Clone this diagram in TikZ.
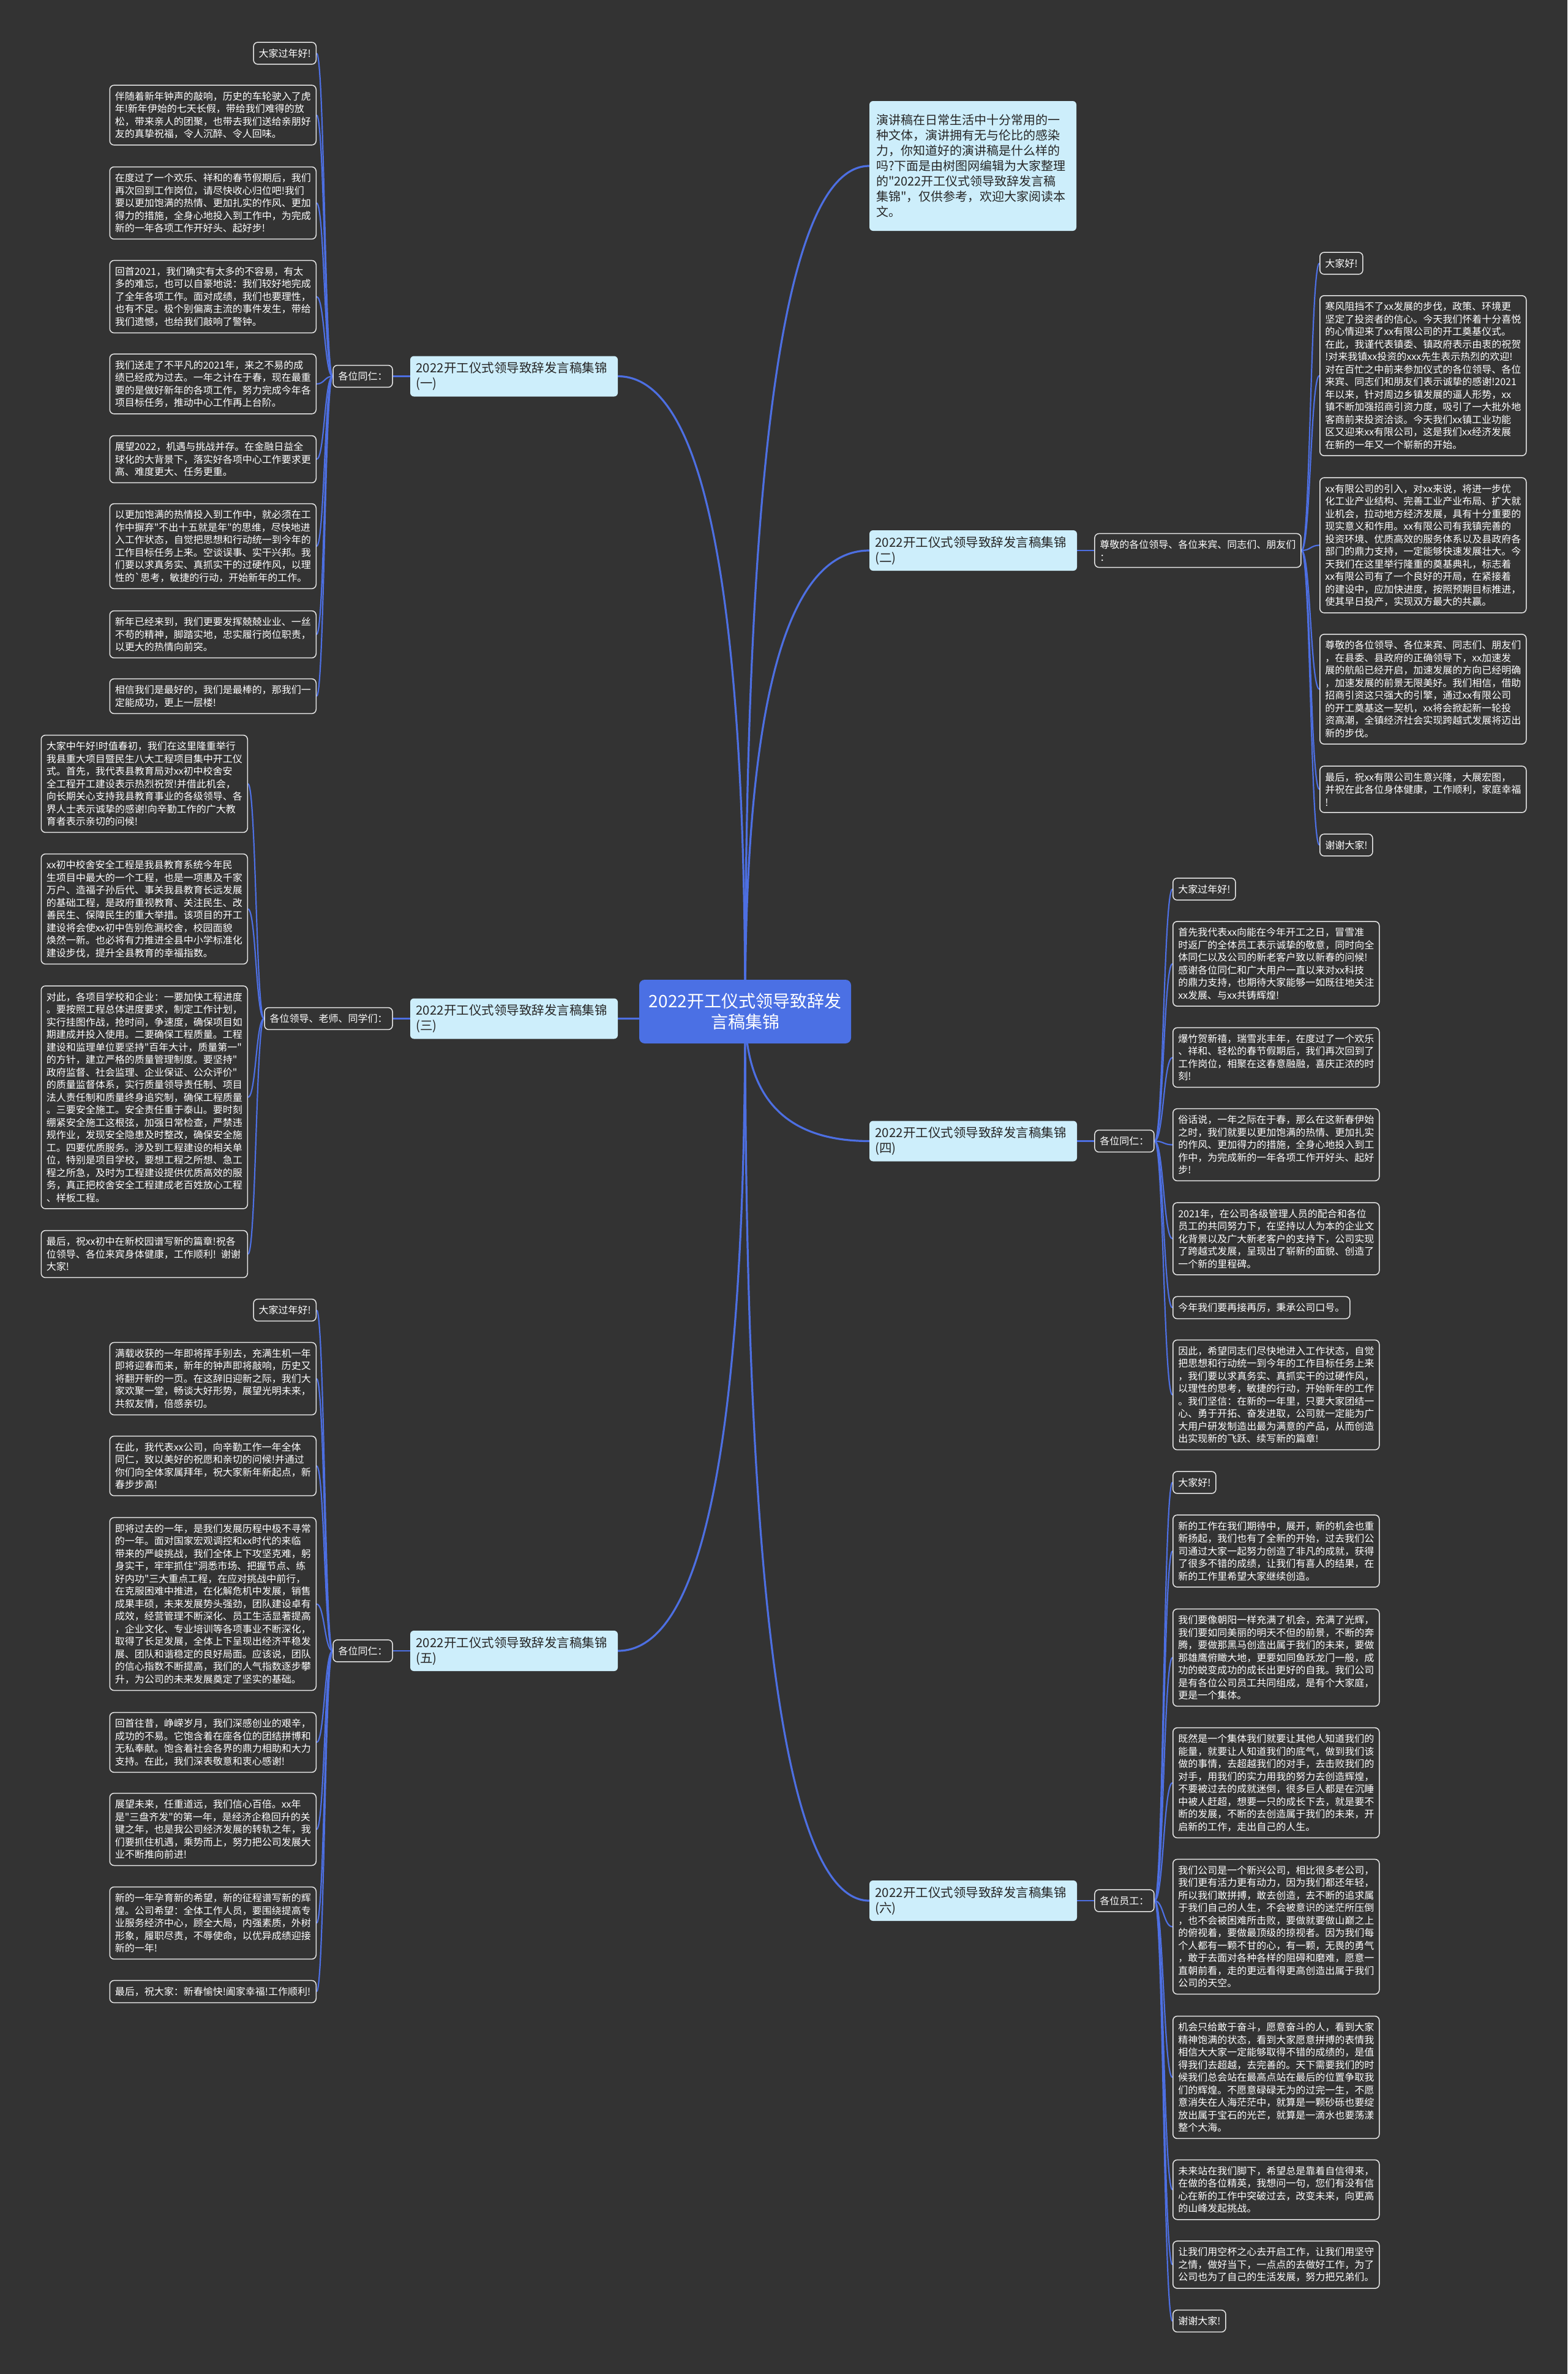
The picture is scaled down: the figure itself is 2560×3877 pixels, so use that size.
\documentclass[tikz,border=0pt]{standalone}
\usepackage{fontspec}
\newfontfamily\cjk{Noto Sans CJK SC}
\usepackage{tikz}
\usetikzlibrary{positioning,calc,backgrounds}

\definecolor{bgdark}{HTML}{333333}
\definecolor{linkblue}{HTML}{4D6FE2}
\definecolor{rootblue}{HTML}{4B70E4}
\definecolor{topicblue}{HTML}{CDEEFB}
\definecolor{boxline}{HTML}{E6E6E6}

\begin{document}
\begin{tikzpicture}[
    x=1pt, y=-1pt,
    node distance=28pt,
    centre/.style={rectangle, rounded corners=9pt, fill=rootblue, text=white, text width=316pt, align=center, inner xsep=15pt, minimum height=104pt, font=\cjk\fontsize{28pt}{34pt}\selectfont},
    topic/.style={rectangle, rounded corners=6pt, fill=topicblue, text=black!85, text width=320pt, align=left, inner xsep=9.5pt, minimum height=66pt, font=\cjk\fontsize{20.5pt}{25pt}\selectfont},
    blurb/.style={topic, text width=316pt, inner xsep=11pt, minimum height=212pt, font=\cjk\fontsize{20pt}{25pt}\selectfont},
    chip/.style={rectangle, rounded corners=7pt, draw=boxline, line width=1.5pt, fill=bgdark, text=white, align=left, inner xsep=8.5pt, inner ysep=10.5pt, font=\cjk\fontsize{16pt}{20.5pt}\selectfont},
    salute/.style={chip},
    para/.style={chip, text width=320pt},
    trunk/.style={draw=linkblue, line width=3.2pt,
      to path={.. controls ($(\tikztostart)!0.67!(\tikztostart |- \tikztotarget)$) and ($(\tikztotarget)!0.67!(\tikztostart |- \tikztotarget)$) .. (\tikztotarget)}},
    twig/.style={draw=linkblue, line width=2.2pt,
      to path={.. controls ($(\tikztostart)!0.5!(\tikztostart -| \tikztotarget)$) and ($(\tikztotarget)!0.5!(\tikztotarget -| \tikztostart)$) .. (\tikztotarget)}}
]
\useasboundingbox (0,0) rectangle (2560,3877);

% centre and intro
\node[centre] (root) at (1217,1652) {2022开工仪式领导致辞发\\言稿集锦};
\node[blurb] (intro) at (1589,271) {演讲稿在日常生活中十分常用的一\\种文体，演讲拥有无与伦比的感染\\力，你知道好的演讲稿是什么样的\\吗?下面是由树图网编辑为大家整理\\的"2022开工仪式领导致辞发言稿\\集锦"，仅供参考，欢迎大家阅读本\\文。};

% six speeches
\node[topic] (talkA) at (839.5,614.5) {2022开工仪式领导致辞发言稿集锦\\(一)};
\node[topic] (talkB) at (1589.5,899) {2022开工仪式领导致辞发言稿集锦\\(二)};
\node[topic] (talkC) at (839.5,1663.5) {2022开工仪式领导致辞发言稿集锦\\(三)};
\node[topic] (talkD) at (1589.5,1863.5) {2022开工仪式领导致辞发言稿集锦\\(四)};
\node[topic] (talkE) at (839.5,2696) {2022开工仪式领导致辞发言稿集锦\\(五)};
\node[topic] (talkF) at (1589.5,3104) {2022开工仪式领导致辞发言稿集锦\\(六)};

\node[salute, left=of talkA] (hiA) {各位同仁：};
\node[salute, text width=320pt, right=of talkB] (hiB) {尊敬的各位领导、各位来宾、同志们、朋友们\\：};
\node[salute, left=of talkC] (hiC) {各位领导、老师、同学们：};
\node[salute, right=of talkD] (hiD) {各位同仁：};
\node[salute, left=of talkE] (hiE) {各位同仁：};
\node[salute, right=of talkF] (hiF) {各位员工：};

% speech 1
\node[chip, anchor=east] (aGreet) at (517,87) {大家过年好!};
\node[para, anchor=east] (a1) at (517,188) {伴随着新年钟声的敲响，历史的车轮驶入了虎\\年!新年伊始的七天长假，带给我们难得的放\\松，带来亲人的团聚，也带去我们送给亲朋好\\友的真挚祝福，令人沉醉、令人回味。};
\node[para, anchor=east] (a2) at (517,331.5) {在度过了一个欢乐、祥和的春节假期后，我们\\再次回到工作岗位，请尽快收心归位吧!我们\\要以更加饱满的热情、更加扎实的作风、更加\\得力的措施，全身心地投入到工作中，为完成\\新的一年各项工作开好头、起好步!};
\node[para, anchor=east] (a3) at (517,484.5) {回首2021，我们确实有太多的不容易，有太\\多的难忘，也可以自豪地说：我们较好地完成\\了全年各项工作。面对成绩，我们也要理性，\\也有不足。极个别偏离主流的事件发生，带给\\我们遗憾，也给我们敲响了警钟。};
\node[para, anchor=east] (a4) at (517,627) {我们送走了不平凡的2021年，来之不易的成\\绩已经成为过去。一年之计在于春，现在最重\\要的是做好新年的各项工作，努力完成今年各\\项目标任务，推动中心工作再上台阶。};
\node[para, anchor=east] (a5) at (517,750) {展望2022，机遇与挑战并存。在金融日益全\\球化的大背景下，落实好各项中心工作要求更\\高、难度更大、任务更重。};
\node[para, anchor=east] (a6) at (517,892) {以更加饱满的热情投入到工作中，就必须在工\\作中摒弃"不出十五就是年"的思维，尽快地进\\入工作状态，自觉把思想和行动统一到今年的\\工作目标任务上来。空谈误事、实干兴邦。我\\们要以求真务实、真抓实干的过硬作风，以理\\性的`思考，敏捷的行动，开始新年的工作。};
\node[para, anchor=east] (a7) at (517,1036) {新年已经来到，我们更要发挥兢兢业业、一丝\\不苟的精神，脚踏实地，忠实履行岗位职责，\\以更大的热情向前突。};
\node[para, anchor=east] (a8) at (517,1137) {相信我们是最好的，我们是最棒的，那我们一\\定能成功，更上一层楼!};

% speech 2
\node[chip, anchor=west] (bGreet) at (2155,430) {大家好!};
\node[para, anchor=west] (b1) at (2155,613.5) {寒风阻挡不了xx发展的步伐，政策、环境更\\坚定了投资者的信心。今天我们怀着十分喜悦\\的心情迎来了xx有限公司的开工奠基仪式。\\在此，我谨代表镇委、镇政府表示由衷的祝贺\\!对来我镇xx投资的xxx先生表示热烈的欢迎!\\对在百忙之中前来参加仪式的各位领导、各位\\来宾、同志们和朋友们表示诚挚的感谢!2021\\年以来，针对周边乡镇发展的逼人形势，xx\\镇不断加强招商引资力度，吸引了一大批外地\\客商前来投资洽谈。今天我们xx镇工业功能\\区又迎来xx有限公司，这是我们xx经济发展\\在新的一年又一个崭新的开始。};
\node[para, anchor=west] (b2) at (2155,890.5) {xx有限公司的引入，对xx来说，将进一步优\\化工业产业结构、完善工业产业布局、扩大就\\业机会，拉动地方经济发展，具有十分重要的\\现实意义和作用。xx有限公司有我镇完善的\\投资环境、优质高效的服务体系以及县政府各\\部门的鼎力支持，一定能够快速发展壮大。今\\天我们在这里举行隆重的奠基典礼，标志着\\xx有限公司有了一个良好的开局，在紧接着\\的建设中，应加快进度，按照预期目标推进，\\使其早日投产，实现双方最大的共赢。};
\node[para, anchor=west] (b3) at (2155,1125.5) {尊敬的各位领导、各位来宾、同志们、朋友们\\，在县委、县政府的正确领导下，xx加速发\\展的航船已经开启，加速发展的方向已经明确\\，加速发展的前景无限美好。我们相信，借助\\招商引资这只强大的引擎，通过xx有限公司\\的开工奠基这一契机，xx将会掀起新一轮投\\资高潮，全镇经济社会实现跨越式发展将迈出\\新的步伐。};
\node[para, anchor=west] (b4) at (2155,1289) {最后，祝xx有限公司生意兴隆，大展宏图，\\并祝在此各位身体健康，工作顺利，家庭幸福\\!};
\node[chip, anchor=west] (bThanks) at (2155,1380) {谢谢大家!};

% speech 3
\node[para, anchor=east] (c1) at (405,1280) {大家中午好!时值春初，我们在这里隆重举行\\我县重大项目暨民生八大工程项目集中开工仪\\式。首先，我代表县教育局对xx初中校舍安\\全工程开工建设表示热烈祝贺!并借此机会，\\向长期关心支持我县教育事业的各级领导、各\\界人士表示诚挚的感谢!向辛勤工作的广大教\\育者表示亲切的问候!};
\node[para, anchor=east] (c2) at (405,1484.5) {xx初中校舍安全工程是我县教育系统今年民\\生项目中最大的一个工程，也是一项惠及千家\\万户、造福子孙后代、事关我县教育长远发展\\的基础工程，是政府重视教育、关注民生、改\\善民生、保障民生的重大举措。该项目的开工\\建设将会使xx初中告别危漏校舍，校园面貌\\焕然一新。也必将有力推进全县中小学标准化\\建设步伐，提升全县教育的幸福指数。};
\node[para, anchor=east] (c3) at (405,1792) {对此，各项目学校和企业：一要加快工程进度\\。要按照工程总体进度要求，制定工作计划，\\实行挂图作战，抢时间，争速度，确保项目如\\期建成并投入使用。二要确保工程质量。工程\\建设和监理单位要坚持"百年大计，质量第一"\\的方针，建立严格的质量管理制度。要坚持"\\政府监督、社会监理、企业保证、公众评价"\\的质量监督体系，实行质量领导责任制、项目\\法人责任制和质量终身追究制，确保工程质量\\。三要安全施工。安全责任重于泰山。要时刻\\绷紧安全施工这根弦，加强日常检查，严禁违\\规作业，发现安全隐患及时整改，确保安全施\\工。四要优质服务。涉及到工程建设的相关单\\位，特别是项目学校，要想工程之所想、急工\\程之所急，及时为工程建设提供优质高效的服\\务，真正把校舍安全工程建成老百姓放心工程\\、样板工程。};
\node[para, anchor=east] (c4) at (405,2048) {最后，祝xx初中在新校园谱写新的篇章!祝各\\位领导、各位来宾身体健康，工作顺利! 谢谢\\大家!};

% speech 4
\node[chip, anchor=west] (dGreet) at (1915,1452) {大家过年好!};
\node[para, anchor=west] (d1) at (1915,1574) {首先我代表xx向能在今年开工之日，冒雪准\\时返厂的全体员工表示诚挚的敬意，同时向全\\体同仁以及公司的新老客户致以新春的问候!\\感谢各位同仁和广大用户一直以来对xx科技\\的鼎力支持，也期待大家能够一如既往地关注\\xx发展、与xx共铸辉煌!};
\node[para, anchor=west] (d2) at (1915,1727) {爆竹贺新禧，瑞雪兆丰年，在度过了一个欢乐\\、祥和、轻松的春节假期后，我们再次回到了\\工作岗位，相聚在这春意融融，喜庆正浓的时\\刻!};
\node[para, anchor=west] (d3) at (1915,1869.5) {俗话说，一年之际在于春，那么在这新春伊始\\之时，我们就要以更加饱满的热情、更加扎实\\的作风、更加得力的措施，全身心地投入到工\\作中，为完成新的一年各项工作开好头、起好\\步!};
\node[para, anchor=west] (d4) at (1915,2023) {2021年，在公司各级管理人员的配合和各位\\员工的共同努力下，在坚持以人为本的企业文\\化背景以及广大新老客户的支持下，公司实现\\了跨越式发展，呈现出了崭新的面貌、创造了\\一个新的里程碑。};
\node[chip, anchor=west] (d5) at (1915,2135.5) {今年我们要再接再厉，秉承公司口号。};
\node[para, anchor=west] (d6) at (1915,2278) {因此，希望同志们尽快地进入工作状态，自觉\\把思想和行动统一到今年的工作目标任务上来\\，我们要以求真务实、真抓实干的过硬作风，\\以理性的思考，敏捷的行动，开始新年的工作\\。我们坚信：在新的一年里，只要大家团结一\\心、勇于开拓、奋发进取，公司就一定能为广\\大用户研发制造出最为满意的产品，从而创造\\出实现新的飞跃、续写新的篇章!};

% speech 5
\node[chip, anchor=east] (eGreet) at (517,2139.5) {大家过年好!};
\node[para, anchor=east] (e1) at (517,2251.5) {满载收获的一年即将挥手别去，充满生机一年\\即将迎春而来，新年的钟声即将敲响，历史又\\将翻开新的一页。在这辞旧迎新之际，我们大\\家欢聚一堂，畅谈大好形势，展望光明未来，\\共叙友情，倍感亲切。};
\node[para, anchor=east] (e2) at (517,2394) {在此，我代表xx公司，向辛勤工作一年全体\\同仁，致以美好的祝愿和亲切的问候!并通过\\你们向全体家属拜年，祝大家新年新起点，新\\春步步高!};
\node[para, anchor=east] (e3) at (517,2619.5) {即将过去的一年，是我们发展历程中极不寻常\\的一年。面对国家宏观调控和xx时代的来临\\带来的严峻挑战，我们全体上下攻坚克难，躬\\身实干，牢牢抓住"洞悉市场、把握节点、练\\好内功"三大重点工程，在应对挑战中前行，\\在克服困难中推进，在化解危机中发展，销售\\成果丰硕，未来发展势头强劲，团队建设卓有\\成效，经营管理不断深化、员工生活显著提高\\，企业文化、专业培训等各项事业不断深化，\\取得了长足发展，全体上下呈现出经济平稳发\\展、团队和谐稳定的良好局面。应该说，团队\\的信心指数不断提高，我们的人气指数逐步攀\\升，为公司的未来发展奠定了坚实的基础。};
\node[para, anchor=east] (e4) at (517,2845.5) {回首往昔，峥嵘岁月，我们深感创业的艰辛，\\成功的不易。它饱含着在座各位的团结拼博和\\无私奉献。饱含着社会各界的鼎力相助和大力\\支持。在此，我们深表敬意和衷心感谢!};
\node[para, anchor=east] (e5) at (517,2987.5) {展望未来，任重道远，我们信心百倍。xx年\\是"三盘齐发"的第一年，是经济企稳回升的关\\键之年，也是我公司经济发展的转轨之年，我\\们要抓住机遇，乘势而上，努力把公司发展大\\业不断推向前进!};
\node[para, anchor=east] (e6) at (517,3140.5) {新的一年孕育新的希望，新的征程谱写新的辉\\煌。公司希望：全体工作人员，要围绕提高专\\业服务经济中心，顾全大局，内强素质，外树\\形象，履职尽责，不辱使命，以优异成绩迎接\\新的一年!};
\node[para, anchor=east] (e7) at (517,3252.5) {最后，祝大家：新春愉快!阖家幸福!工作顺利!};

% speech 6
\node[chip, anchor=west] (fGreet) at (1915,2421) {大家好!};
\node[para, anchor=west] (f1) at (1915,2533) {新的工作在我们期待中，展开，新的机会也重\\新扬起，我们也有了全新的开始，过去我们公\\司通过大家一起努力创造了非凡的成就，获得\\了很多不错的成绩，让我们有喜人的结果，在\\新的工作里希望大家继续创造。};
\node[para, anchor=west] (f2) at (1915,2707) {我们要像朝阳一样充满了机会，充满了光辉，\\我们要如同美丽的明天不但的前景，不断的奔\\腾，要做那黑马创造出属于我们的未来，要做\\那雄鹰俯瞰大地，更要如同鱼跃龙门一般，成\\功的蜕变成功的成长出更好的自我。我们公司\\是有各位公司员工共同组成，是有个大家庭，\\更是一个集体。};
\node[para, anchor=west] (f3) at (1915,2911.5) {既然是一个集体我们就要让其他人知道我们的\\能量，就要让人知道我们的底气，做到我们该\\做的事情，去超越我们的对手，去击败我们的\\对手，用我们的实力用我的努力去创造辉煌，\\不要被过去的成就迷倒，很多巨人都是在沉睡\\中被人赶超，想要一只的成长下去，就是要不\\断的发展，不断的去创造属于我们的未来，开\\启新的工作，走出自己的人生。};
\node[para, anchor=west] (f4) at (1915,3146.5) {我们公司是一个新兴公司，相比很多老公司，\\我们更有活力更有动力，因为我们都还年轻，\\所以我们敢拼搏，敢去创造，去不断的追求属\\于我们自己的人生，不会被意识的迷茫所压倒\\，也不会被困难所击败，要做就要做山巅之上\\的俯视着，要做最顶级的掠视者。因为我们每\\个人都有一颗不甘的心，有一颗，无畏的勇气\\，敢于去面对各种各样的阻碍和磨难，愿意一\\直朝前看，走的更远看得更高创造出属于我们\\公司的天空。};
\node[para, anchor=west] (f5) at (1915,3392.5) {机会只给敢于奋斗，愿意奋斗的人，看到大家\\精神饱满的状态，看到大家愿意拼搏的表情我\\相信大大家一定能够取得不错的成绩的，是值\\得我们去超越，去完善的。天下需要我们的时\\候我们总会站在最高点站在最后的位置争取我\\们的辉煌。不愿意碌碌无为的过完一生，不愿\\意消失在人海茫茫中，就算是一颗砂砾也要绽\\放出属于宝石的光芒，就算是一滴水也要荡漾\\整个大海。};
\node[para, anchor=west] (f6) at (1915,3576) {未来站在我们脚下，希望总是靠着自信得来，\\在做的各位精英，我想问一句，您们有没有信\\心在新的工作中突破过去，改变未来，向更高\\的山峰发起挑战。};
\node[para, anchor=west] (f7) at (1915,3698.5) {让我们用空杯之心去开启工作，让我们用坚守\\之情，做好当下，一点点的去做好工作，为了\\公司也为了自己的生活发展，努力把兄弟们。};
\node[chip, anchor=west] (fThanks) at (1915,3790.5) {谢谢大家!};

\begin{pgfonlayer}{background}
\fill[bgdark] (0,0) rectangle (2560,3877);

% root to speeches
\draw[trunk] (root.center) to (intro.west);
\draw[trunk] (root.center) to (talkA.east);
\draw[trunk] (root.center) to (talkB.west);
\draw[trunk] (root.center) to (talkC.east);
\draw[trunk] (root.center) to (talkD.west);
\draw[trunk] (root.center) to (talkE.east);
\draw[trunk] (root.center) to (talkF.west);

% speeches to greetings
\draw[twig] (talkA.west) to (hiA.east);
\draw[twig] (talkB.east) to (hiB.west);
\draw[twig] (talkC.west) to (hiC.east);
\draw[twig] (talkD.east) to (hiD.west);
\draw[twig] (talkE.west) to (hiE.east);
\draw[twig] (talkF.east) to (hiF.west);

% greetings to paragraphs
\draw[twig] (hiA.west) to (aGreet.east);
\draw[twig] (hiA.west) to (a1.east);
\draw[twig] (hiA.west) to (a2.east);
\draw[twig] (hiA.west) to (a3.east);
\draw[twig] (hiA.west) to (a4.east);
\draw[twig] (hiA.west) to (a5.east);
\draw[twig] (hiA.west) to (a6.east);
\draw[twig] (hiA.west) to (a7.east);
\draw[twig] (hiA.west) to (a8.east);

\draw[twig] (hiB.east) to (bGreet.west);
\draw[twig] (hiB.east) to (b1.west);
\draw[twig] (hiB.east) to (b2.west);
\draw[twig] (hiB.east) to (b3.west);
\draw[twig] (hiB.east) to (b4.west);
\draw[twig] (hiB.east) to (bThanks.west);

\draw[twig] (hiC.west) to (c1.east);
\draw[twig] (hiC.west) to (c2.east);
\draw[twig] (hiC.west) to (c3.east);
\draw[twig] (hiC.west) to (c4.east);

\draw[twig] (hiD.east) to (dGreet.west);
\draw[twig] (hiD.east) to (d1.west);
\draw[twig] (hiD.east) to (d2.west);
\draw[twig] (hiD.east) to (d3.west);
\draw[twig] (hiD.east) to (d4.west);
\draw[twig] (hiD.east) to (d5.west);
\draw[twig] (hiD.east) to (d6.west);

\draw[twig] (hiE.west) to (eGreet.east);
\draw[twig] (hiE.west) to (e1.east);
\draw[twig] (hiE.west) to (e2.east);
\draw[twig] (hiE.west) to (e3.east);
\draw[twig] (hiE.west) to (e4.east);
\draw[twig] (hiE.west) to (e5.east);
\draw[twig] (hiE.west) to (e6.east);
\draw[twig] (hiE.west) to (e7.east);

\draw[twig] (hiF.east) to (fGreet.west);
\draw[twig] (hiF.east) to (f1.west);
\draw[twig] (hiF.east) to (f2.west);
\draw[twig] (hiF.east) to (f3.west);
\draw[twig] (hiF.east) to (f4.west);
\draw[twig] (hiF.east) to (f5.west);
\draw[twig] (hiF.east) to (f6.west);
\draw[twig] (hiF.east) to (f7.west);
\draw[twig] (hiF.east) to (fThanks.west);
\end{pgfonlayer}
\end{tikzpicture}
\end{document}
